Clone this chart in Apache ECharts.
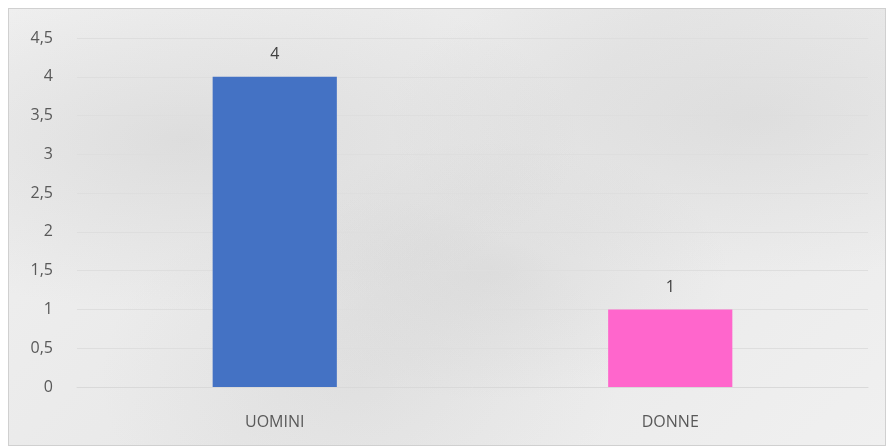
<!DOCTYPE html>
<html>
<head>
<meta charset="utf-8">
<script src="https://cdn.jsdelivr.net/npm/echarts@6/dist/echarts.min.js"></script>
<style>
html,body{margin:0;padding:0;background:#fff;width:886px;height:446px;overflow:hidden;}
#bg{position:absolute;left:8px;top:8px;width:878px;height:438px;box-sizing:border-box;border:1px solid #d0d0d0;
background:
 radial-gradient(ellipse at 20% 30%, rgba(150,150,150,0.18), rgba(0,0,0,0) 40%),
 radial-gradient(ellipse at 55% 60%, rgba(160,160,160,0.15), rgba(0,0,0,0) 35%),
 radial-gradient(ellipse at 85% 25%, rgba(150,150,150,0.15), rgba(0,0,0,0) 35%),
 radial-gradient(ellipse at 40% 85%, rgba(170,170,170,0.14), rgba(0,0,0,0) 35%),
 linear-gradient(135deg, #f1f1f1, #e8e8e8 50%, #f0f0f0);}
#chart{position:absolute;left:0;top:0;width:886px;height:446px;}
</style>
</head>
<body>
<div id="bg"></div>
<div id="chart"></div>
<script>
const categories = ['UOMINI', 'DONNE'];
const values = [4, 1];
const barColors = ['#4472C4', '#FF66CC'];

const chart = echarts.init(document.getElementById('chart'), null, {renderer: 'canvas'});
chart.setOption({
  backgroundColor: 'transparent',
  animation: false,
  grid: {left: 77, right: 18, top: 38, bottom: 59, containLabel: false},
  xAxis: {
    type: 'category',
    data: categories,
    axisTick: {show: false},
    axisLine: {lineStyle: {color: '#d9d9d9'}},
    axisLabel: {color: '#595959', fontSize: 16, fontFamily: 'Open Sans', margin: 27}
  },
  yAxis: {
    type: 'value',
    min: 0, max: 4.5, interval: 0.5,
    axisLine: {show: false},
    axisTick: {show: false},
    splitLine: {lineStyle: {color: '#dedede'}},
    axisLabel: {color: '#595959', fontSize: 16, fontFamily: 'Open Sans', margin: 24,
      formatter: v => String(v).replace('.', ',')}
  },
  series: [{
    type: 'bar',
    data: values.map((v, i) => ({value: v, itemStyle: {color: barColors[i]}})),
    barWidth: '31.4%',
    label: {show: true, position: 'top', distance: 14, color: '#404040', fontSize: 16, fontFamily: 'Open Sans'}
  }]
});
</script>
</body>
</html>
